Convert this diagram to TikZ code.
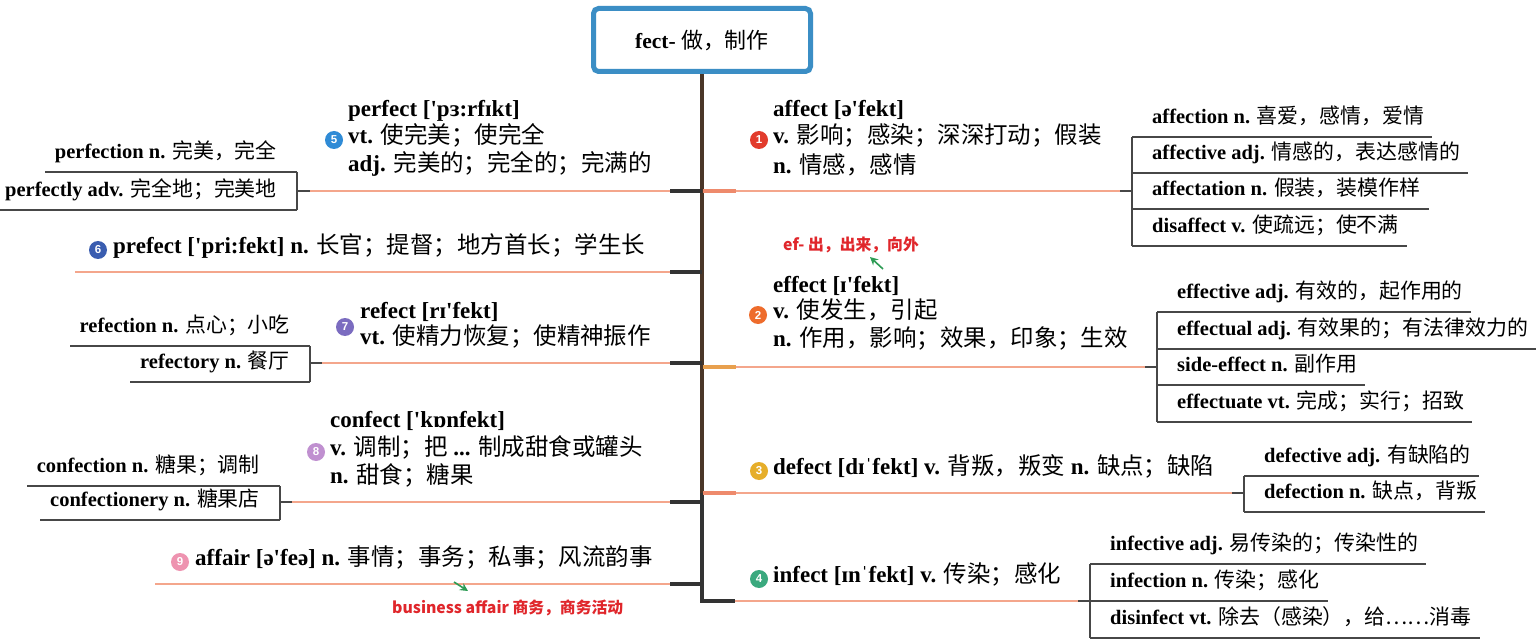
\documentclass[tikz,border=0pt]{standalone}
\usepackage{fontspec}
\setmainfont{Liberation Serif}[Ligatures=TeXOff]
\setsansfont{Liberation Sans}
\newfontfamily\cjk[Scale=1.02]{Noto Sans CJK SC}
\usetikzlibrary{arrows.meta,calc}
\definecolor{rootblue}{HTML}{3B8EC5}
\definecolor{trunkbrown}{HTML}{4A3628}
\definecolor{stubdark}{HTML}{333333}
\definecolor{salmon}{HTML}{F4A68C}
\definecolor{stubsal}{HTML}{EE8A6C}
\definecolor{stuborange}{HTML}{E8A04E}
\definecolor{brkgray}{HTML}{474747}
\definecolor{notered}{HTML}{E0262B}
\definecolor{arrgreen}{HTML}{2E9C55}
\definecolor{bone}{HTML}{E23B2C}
\definecolor{btwo}{HTML}{EE6C2C}
\definecolor{bthree}{HTML}{E6AE2A}
\definecolor{bfour}{HTML}{3AA97E}
\definecolor{bfive}{HTML}{2F8BD6}
\definecolor{bsix}{HTML}{3A5DB0}
\definecolor{bseven}{HTML}{7B6CC0}
\definecolor{beight}{HTML}{C090D0}
\definecolor{bnine}{HTML}{EE93B0}
\newcommand\zh[1]{{\cjk\mdseries #1}}
\newcommand\msz{\fontsize{23}{27}\selectfont}
\newcommand\ksz{\fontsize{20.5}{24}\selectfont}
% right-side child: name, bracket x, underline y, text
\newcommand\kidR[4]{\node[kid,anchor=west] (#1) at (#2+20,#3-17) {#4};
  \draw[brk] (#2,#3) -- ($(#1.east)+(8,17)$);}
% left-side child: name, bracket x, underline y, text
\newcommand\kidL[4]{\node[kid,anchor=east] (#1) at (#2-20,#3-17) {#4};
  \draw[brk] (#2,#3) -- ($(#1.west)+(-10,17)$);}
\begin{document}
\begin{tikzpicture}[x=1pt,y=-1pt,
  mtxt/.style={font=\msz\bfseries, inner sep=0pt, text height=0.85em, text depth=0.15em, anchor=west},
  kid/.style={font=\ksz\bfseries, inner sep=0pt, text height=0.85em, text depth=0.15em},
  badge/.style={circle, inner sep=0pt, minimum size=18pt, text=white, font=\fontsize{11.5}{11.5}\selectfont\sffamily\bfseries},
  sal/.style={draw=salmon, line width=1.3pt},
  lstub/.style={draw=stubdark, line width=3.2pt},
  rstub/.style={draw=stubsal, line width=4pt},
  brk/.style={draw=brkgray, line width=1.3pt},
  trunk/.style={draw=trunkbrown, line width=3.2pt},
  trunkdark/.style={draw=stubdark, line width=3.2pt},
  note/.style={font=\cjk\bfseries\fontsize{15.5}{18}\selectfont, text=notered, inner sep=0pt, anchor=west},
  garrow/.style={draw=arrgreen, line width=1.6pt, -{Stealth[length=8pt,width=8pt]}},
  rootbox/.style={draw=rootblue, line width=5pt, rounded corners=5pt, fill=white,
    minimum width=217pt, minimum height=63pt, font=\fontsize{21.5}{26}\selectfont\bfseries}
]
\useasboundingbox (0,0) rectangle (1536,644);
\fill[white] (0,0) rectangle (1536,644);

% ---- trunk ----
\coordinate (tj) at (702,493);
\coordinate (tb) at (702,601);
\coordinate (inS) at (735,601);
\draw[trunk] (702,60) -- (tj);
\draw[trunkdark] (tj) -- (tb) -- (inS);
\node[rootbox] (root) at (702,40) {fect- \zh{做，制作}};

% ================= LEFT =================
% perfect
\node[badge, fill=bfive] (b5) at (334,140) {5};
\node[mtxt] (pf1) at (348,113) {perfect ['pɜ:rfɪkt]};
\node[mtxt] (pf2) at (348,140) {vt. \zh{使完美；使完全}};
\node[mtxt] (pf3) at (348,168) {adj. \zh{完美的；完全的；完满的}};
\coordinate (pfT) at (702,191);
\draw[sal] (310,191) -- (670,191);
\draw[lstub] (670,191) -- (pfT);
\draw[brk] (297,172) -- (297,210);
\draw[brk] (297,191) -- (310,191);
\kidL{pfa}{297}{172}{perfection n. \zh{完美，完全}}
\kidL{pfb}{297}{210}{perfectly adv. \zh{完全地；完美地}}

% prefect
\node[badge, fill=bsix] (b6) at (98,250) {6};
\node[mtxt] (pr) at (113,250) {prefect ['pri:fekt] n. \zh{长官；提督；地方首长；学生长}};
\coordinate (prT) at (702,272);
\draw[sal] (75,272) -- (670,272);
\draw[lstub] (670,272) -- (prT);

% refect
\node[badge, fill=bseven] (b7) at (345,327) {7};
\node[mtxt] (rf1) at (360,315) {refect [rɪ'fekt]};
\node[mtxt] (rf2) at (360,341) {vt. \zh{使精力恢复；使精神振作}};
\coordinate (rfT) at (702,363);
\draw[sal] (322,363) -- (670,363);
\draw[lstub] (670,363) -- (rfT);
\draw[brk] (310,346) -- (310,382);
\draw[brk] (310,363) -- (322,363);
\kidL{rfa}{310}{346}{refection n. \zh{点心；小吃}}
\kidL{rfb}{310}{382}{refectory n. \zh{餐厅}}

% confect
\node[badge, fill=beight] (b8) at (316,452) {8};
\node[mtxt] (cf1) at (330,424) {confect ['kɒnfekt]};
\node[mtxt] (cf2) at (330,452) {v. \zh{调制；把} ... \zh{制成甜食或罐头}};
\node[mtxt] (cf3) at (330,480) {n. \zh{甜食；糖果}};
\coordinate (cfT) at (702,502);
\draw[sal] (292,502) -- (670,502);
\draw[lstub] (670,502) -- (cfT);
\draw[brk] (280,486) -- (280,520);
\draw[brk] (280,502) -- (292,502);
\kidL{cfa}{280}{486}{confection n. \zh{糖果；调制}}
\kidL{cfb}{280}{520}{confectionery n. \zh{糖果店}}

% affair
\node[badge, fill=bnine] (b9) at (180,562) {9};
\node[mtxt] (af) at (195,562) {affair [ə'feə] n. \zh{事情；事务；私事；风流韵事}};
\coordinate (afT) at (702,584);
\draw[sal] (155,584) -- (670,584);
\draw[lstub] (670,584) -- (afT);
\node[note] (bizn) at (392,608) {business affair 商务，商务活动};
\coordinate (bizA) at (454,582);
\coordinate (bizB) at (468,591);
\draw[garrow] (bizA) -- (bizB);

% ================= RIGHT =================
% affect
\node[badge, fill=bone] (b1) at (759,140) {1};
\node[mtxt] (ac1) at (773,113) {affect [ə'fekt]};
\node[mtxt] (ac2) at (773,140) {v. \zh{影响；感染；深深打动；假装}};
\node[mtxt] (ac3) at (773,170) {n. \zh{情感，感情}};
\coordinate (acT) at (703,191);
\draw[sal] (736,191) -- (1120,191);
\draw[rstub] (acT) -- (736,191);
\draw[brk] (1120,191) -- (1132,191);
\draw[brk] (1132,137) -- (1132,246);
\kidR{aca}{1132}{137}{affection n. \zh{喜爱，感情，爱情}}
\kidR{acb}{1132}{173}{affective adj. \zh{情感的，表达感情的}}
\kidR{acc}{1132}{209}{affectation n. \zh{假装，装模作样}}
\kidR{acd}{1132}{246}{disaffect v. \zh{使疏远；使不满}}

\node[note] (efn) at (783,245) {ef- 出，出来，向外};
\coordinate (efA) at (883,269);
\coordinate (efB) at (870,257);
\draw[garrow] (efA) -- (efB);

% effect
\node[badge, fill=btwo] (b2) at (758,315) {2};
\node[mtxt] (ef1) at (773,289) {effect [ɪ'fekt]};
\node[mtxt] (ef2) at (773,315) {v. \zh{使发生，引起}};
\node[mtxt] (ef3) at (773,343) {n. \zh{作用，影响；效果，印象；生效}};
\coordinate (efT) at (703,367);
\draw[sal] (736,367) -- (1145,367);
\draw[draw=stuborange, line width=4pt] (efT) -- (736,367);
\draw[brk] (1145,367) -- (1157,367);
\draw[brk] (1157,312) -- (1157,422);
\kidR{efa}{1157}{312}{effective adj. \zh{有效的，起作用的}}
\kidR{efb}{1157}{349}{effectual adj. \zh{有效果的；有法律效力的}}
\kidR{efc}{1157}{385}{side-effect n. \zh{副作用}}
\kidR{efd}{1157}{422}{effectuate vt. \zh{完成；实行；招致}}

% defect
\node[badge, fill=bthree] (b3) at (759,471) {3};
\node[mtxt] (df) at (773,471) {defect [dɪˈfekt] v. \zh{背叛，叛变} n. \zh{缺点；缺陷}};
\coordinate (dfT) at (703,493);
\draw[sal] (736,493) -- (1232,493);
\draw[rstub] (dfT) -- (736,493);
\draw[brk] (1232,493) -- (1244,493);
\draw[brk] (1244,476) -- (1244,512);
\kidR{dfa}{1244}{476}{defective adj. \zh{有缺陷的}}
\kidR{dfb}{1244}{512}{defection n. \zh{缺点，背叛}}

% infect
\node[badge, fill=bfour] (b4) at (759,579) {4};
\node[mtxt] (inf) at (773,579) {infect [ɪnˈfekt] v. \zh{传染；感化}};
\draw[sal] (inS) -- (1078,601);
\draw[brk] (1078,601) -- (1090,601);
\draw[brk] (1090,564) -- (1090,638);
\kidR{ina}{1090}{564}{infective adj. \zh{易传染的；传染性的}}
\kidR{inb}{1090}{601}{infection n. \zh{传染；感化}}
\kidR{inc}{1090}{638}{disinfect vt. \zh{除去（感染），给……消毒}}
\end{tikzpicture}
\end{document}
